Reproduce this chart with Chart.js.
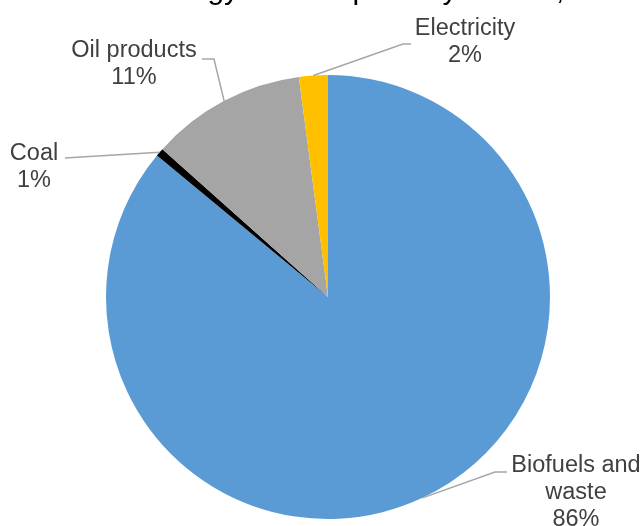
<!DOCTYPE html>
<html>
<head>
<meta charset="utf-8">
<script src="https://cdn.jsdelivr.net/npm/chart.js@4/dist/chart.umd.min.js"></script>
<style>
  html, body { margin: 0; padding: 0; background: #fff; }
  #wrap { width: 644px; height: 526px; position: relative; }
</style>
</head>
<body>
<div id="wrap"><canvas id="pie"></canvas></div>
<script>
// data
const sources = ["Biofuels and waste", "Coal", "Oil products", "Electricity"];
const shares = [86.0, 0.6, 11.3, 2.1];
const shownPct = ["86%", "1%", "11%", "2%"];
const labelLines = [["Biofuels and", "waste"], ["Coal"], ["Oil products"], ["Electricity"]];
const sliceColors = ["#5B9BD5", "#000000", "#A5A5A5", "#FFC000"];
const titleText = "Final energy consumption by source, 2015";

// where each label sits: elbow of the leader, end of the leader, text centre
const labelPlaces = [
  { elbow: [495, 472], end: [507, 472], text: [576, 466] },
  { elbow: [65, 158], end: [65, 158], text: [34, 154] },
  { elbow: [214, 59], end: [202, 59], text: [134, 51] },
  { elbow: [403, 44], end: [411, 44], text: [465, 29] }
];

const fontFam = '"Liberation Sans", Arial, sans-serif';

// draws the leader lines + labels, and the (mostly cut off) title
const labelPlugin = {
  id: "pieLabels",
  afterDraw(chart) {
    const ctx = chart.ctx;
    const meta = chart.getDatasetMeta(0);
    ctx.save();

    // title sits above the canvas, only descenders show
    ctx.fillStyle = "#000";
    ctx.font = "30px " + fontFam;
    ctx.textAlign = "left";
    ctx.textBaseline = "alphabetic";
    ctx.fillText(titleText, 74, -1);

    ctx.font = "23.5px " + fontFam;
    ctx.textAlign = "center";
    ctx.textBaseline = "middle";
    meta.data.forEach(function(arc, i) {
      const p = arc.getProps(["x", "y", "startAngle", "endAngle", "outerRadius"], true);
      const mid = (p.startAngle + p.endAngle) / 2;
      const sx = p.x + Math.cos(mid) * p.outerRadius;
      const sy = p.y + Math.sin(mid) * p.outerRadius;
      const pl = labelPlaces[i];

      ctx.strokeStyle = "#A6A6A6";
      ctx.lineWidth = 1.5;
      ctx.beginPath();
      ctx.moveTo(sx, sy);
      ctx.lineTo(pl.elbow[0], pl.elbow[1]);
      ctx.lineTo(pl.end[0], pl.end[1]);
      ctx.stroke();

      ctx.fillStyle = "#404040";
      const lines = labelLines[i].concat([shownPct[i]]);
      lines.forEach(function(t, k) {
        ctx.fillText(t, pl.text[0], pl.text[1] + k * 27);
      });
    });
    ctx.restore();
  }
};

new Chart(document.getElementById("pie"), {
  type: "pie",
  data: {
    labels: sources,
    datasets: [{
      data: shares,
      backgroundColor: sliceColors,
      borderWidth: 0
    }]
  },
  options: {
    responsive: true,
    maintainAspectRatio: false,
    animation: false,
    layout: { padding: { left: 106, right: 94, top: 75, bottom: 7 } },
    plugins: {
      legend: { display: false },
      tooltip: { enabled: false },
      title: { display: false }
    }
  },
  plugins: [labelPlugin]
});
</script>
</body>
</html>
